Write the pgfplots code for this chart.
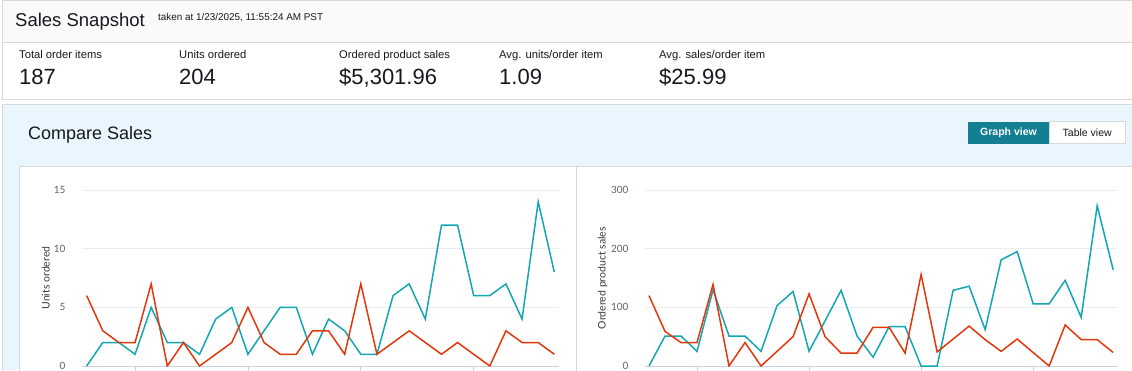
\documentclass[border=0pt]{standalone}
\usepackage{fontspec}
\setmainfont{Liberation Sans}
\newfontfamily\lato{Lato}
\usepackage{pgfplots}
\pgfplotsset{compat=1.18}
\definecolor{hdr}{HTML}{FAFAFA}
\definecolor{bord}{HTML}{D5D9D9}
\definecolor{bluebg}{HTML}{EAF6FD}
\definecolor{btn}{HTML}{147F92}
\definecolor{txt}{HTML}{16191F}
\definecolor{teal}{HTML}{13A7B5}
\definecolor{redl}{HTML}{E2380B}
\definecolor{gridc}{HTML}{EAEDF0}
\definecolor{axc}{HTML}{C9D3DD}
\definecolor{tickc}{HTML}{5A6270}
\pgfplotsset{
  dash/.style={
    scale only axis,
    height=176pt,
    ymin=0,
    /pgf/number format/assume math mode=true,
    axis x line*=bottom, axis y line*=left,
    y axis line style={draw=none},
    x axis line style={draw=axc, line width=0.8pt},
    ymajorgrids, grid style={gridc, line width=0.8pt},
    ytick style={draw=none},
    xtick={3,10,17,24}, xticklabels={},
    xtick style={draw=axc, line width=0.8pt},
    tick align=outside, major tick length=6pt,
    yticklabel style={font=\lato\fontsize{10}{12}\selectfont, text=tickc, xshift=-7pt},
    ylabel style={font=\lato\fontsize{10.5}{12}\selectfont, text=txt!85, anchor=center},
    every axis plot/.append style={line width=1.5pt, mark=none, line join=miter},
  }
}
\begin{document}
\begin{tikzpicture}[x=1pt,y=1pt]
\useasboundingbox (0,0) rectangle (1132,-370);
\clip (0,0) rectangle (1132,-370);
\fill[white] (0,0) rectangle (1132,-370);
% header
\fill[hdr] (2.5,-0.5) rectangle (1132,-42);
\draw[bord, line width=1pt] (1132,-0.5) -- (2.5,-0.5) -- (2.5,-99.5) -- (1132,-99.5);
\draw[bord, line width=1pt] (2.5,-42) -- (1132,-42);
\node[anchor=base west, inner sep=0, text=txt, font=\fontsize{18.5}{20}\selectfont] at (15,-26) {Sales Snapshot};
\node[anchor=base west, inner sep=0, text=txt, font=\fontsize{9.9}{12}\selectfont] at (158,-20) {taken at 1/23/2025, 11:55:24 AM PST};
% stats
\foreach \xx/\lab/\val in {19/Total order items/187, 179/Units ordered/204, 339/Ordered product sales/{\$5,301.96}, 499/Avg. units\slash order item/1.09, 659/Avg. sales\slash order item/{\$25.99}}{
  \node[anchor=base west, inner sep=0, text=txt, font=\fontsize{11.2}{13}\selectfont] at (\xx,-58) {\lab};
  \node[anchor=base west, inner sep=0, text=txt, font=\fontsize{22}{24}\selectfont] at (\xx,-84.5) {\val};
}
% compare sales
\fill[bluebg] (2.5,-104) rectangle (1132,-370);
\draw[bord, line width=1pt] (1132,-104) -- (2.5,-104) -- (2.5,-370);
\node[anchor=base west, inner sep=0, text=txt, font=\fontsize{18}{20}\selectfont] at (28,-139) {Compare Sales};
\fill[btn] (968,-121.5) rectangle (1049,-143.5);
\node[anchor=center, inner sep=0, text=white, font=\bfseries\fontsize{10.5}{12}\selectfont] at (1008.5,-132.5) {Graph view};
\filldraw[fill=white, draw=bord, line width=0.8pt] (1049,-121.5) rectangle (1125.5,-143.5);
\node[anchor=center, inner sep=0, text=txt, font=\fontsize{10.5}{12}\selectfont] at (1087.2,-132.5) {Table view};
% panels
\filldraw[fill=white, draw=bord, line width=1pt] (19.5,-166.5) rectangle (1135,-375);
\draw[bord, line width=1pt] (576.7,-166.5) -- (576.7,-375);
\coordinate (LA) at (82,-366);
\coordinate (RA) at (645,-366);
% left chart
\begin{axis}[dash, at={(LA)}, anchor=south west, width=477pt,
  xmin=-0.29, xmax=29.29, ymax=15, ytick={0,5,10,15},
  ylabel={Units ordered}, ylabel style={at={(rel axis cs:-0.0761,0.5)}}]
\addplot[teal] coordinates {(0,0)(1,2)(2,2)(3,1)(4,5)(5,2)(6,2)(7,1)(8,4)(9,5)(10,1)(11,3)(12,5)(13,5)(14,1)(15,4)(16,3)(17,1)(18,1)(19,6)(20,7)(21,4)(22,12)(23,12)(24,6)(25,6)(26,7)(27,4)(28,14)(29,8)};
\addplot[redl] coordinates {(0,6)(1,3)(2,2)(3,2)(4,7)(5,0)(6,2)(7,0)(8,1)(9,2)(10,5)(11,2)(12,1)(13,1)(14,3)(15,3)(16,1)(17,7)(18,1)(19,2)(20,3)(21,2)(22,1)(23,2)(24,1)(25,0)(26,3)(27,2)(28,2)(29,1)};
\end{axis}
% right chart
\begin{axis}[dash, at={(RA)}, anchor=south west, width=473pt,
  xmin=-0.25, xmax=29.3, ymax=300, ytick={0,100,200,300},
  ylabel={Ordered product sales}, ylabel style={at={(rel axis cs:-0.0894,0.5)}}]
\addplot[teal] coordinates {(0,0)(1,51)(2,51)(3,25)(4,130)(5,51)(6,51)(7,25)(8,103)(9,127)(10,25)(11,77)(12,129)(13,51)(14,15)(15,67)(16,67)(17,0)(18,0)(19,129)(20,136)(21,62)(22,181)(23,195)(24,106)(25,106)(26,146)(27,83)(28,273)(29,164)};
\addplot[redl] coordinates {(0,120)(1,59)(2,40)(3,40)(4,139)(5,0)(6,40)(7,0)(8,25)(9,50)(10,123)(11,50)(12,22)(13,22)(14,66)(15,66)(16,22)(17,156)(18,24)(19,46)(20,68)(21,45)(22,25)(23,46)(24,23)(25,0)(26,70)(27,45)(28,45)(29,23)};
\end{axis}
\end{tikzpicture}
\end{document}
